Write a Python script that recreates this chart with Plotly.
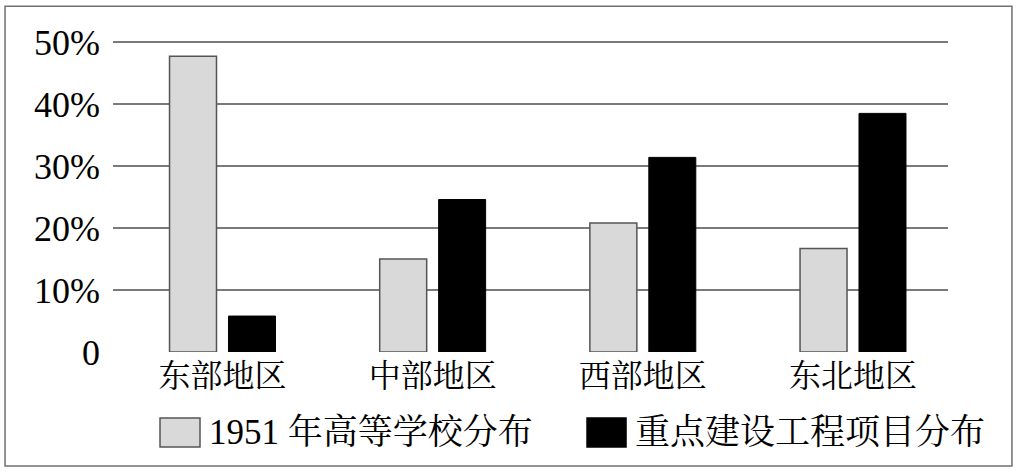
import plotly.graph_objects as go

categories = ["东部地区", "中部地区", "西部地区", "东北地区"]
universities_1951 = [47.7, 15.0, 20.8, 16.7]
key_projects = [5.8, 24.6, 31.4, 38.5]
tick_values = [0, 10, 20, 30, 40, 50]
tick_labels = ["0", "10%", "20%", "30%", "40%", "50%"]
series_names = ["1951 年高等学校分布", "重点建设工程项目分布"]

FONT = "Liberation Serif, Noto Serif CJK SC, Noto Sans CJK SC, serif"
x_idx = list(range(len(categories)))

fig = go.Figure()
fig.add_trace(go.Bar(
    x=x_idx, y=universities_1951, name=series_names[0],
    marker=dict(color="#d9d9d9", line=dict(color="#555555", width=1.5)),
    showlegend=False,
))
fig.add_trace(go.Bar(
    x=x_idx, y=key_projects, name=series_names[1],
    marker=dict(color="#000000", line=dict(color="#000000", width=1)),
    showlegend=False,
))

fig.update_layout(
    width=1019, height=474,
    margin=dict(l=113, r=71, t=39, b=122),
    paper_bgcolor="white", plot_bgcolor="white",
    barmode="group", bargap=0.439, bargroupgap=0.203,
    font=dict(family=FONT, color="black"),
    xaxis=dict(
        range=[-0.521, 3.452], tickmode="array", tickvals=x_idx,
        ticktext=categories, showgrid=False, zeroline=False, showline=False,
        tickfont=dict(size=32, family=FONT), ticks="", ticklabelstandoff=2,
    ),
    yaxis=dict(
        range=[0, 50.5], tickmode="array", tickvals=tick_values,
        ticktext=tick_labels, showgrid=True, gridcolor="#7a7a7a", gridwidth=1.5,
        zeroline=False, showline=False, ticks="",
        tickfont=dict(size=36, family=FONT), ticklabelstandoff=12,
    ),
)

# outer frame
fig.add_shape(type="rect", xref="paper", yref="paper",
              x0=-0.1293, x1=1.0766, y0=-0.364, y1=1.105,
              line=dict(color="#707070", width=1.5), fillcolor="rgba(0,0,0,0)")

# legend (drawn manually to match the large swatches)
legend_items = [
    (0.0563, 0.1042, 0.1126, "#d9d9d9", "#555555", series_names[0]),
    (0.5677, 0.6144, 0.6228, "#000000", "#000000", series_names[1]),
]
for x0, x1, xt, fill, edge, label in legend_items:
    fig.add_shape(type="rect", xref="paper", yref="paper",
                  x0=x0, x1=x1, y0=-0.3035, y1=-0.2109,
                  line=dict(color=edge, width=1.5), fillcolor=fill)
    fig.add_annotation(xref="paper", yref="paper", x=xt, y=-0.2556,
                       text=label, showarrow=False, xanchor="left",
                       yanchor="middle", font=dict(size=35, family=FONT))

fig.write_html("out.html", config={"displayModeBar": False},
               post_script="document.body.style.margin='0';")
